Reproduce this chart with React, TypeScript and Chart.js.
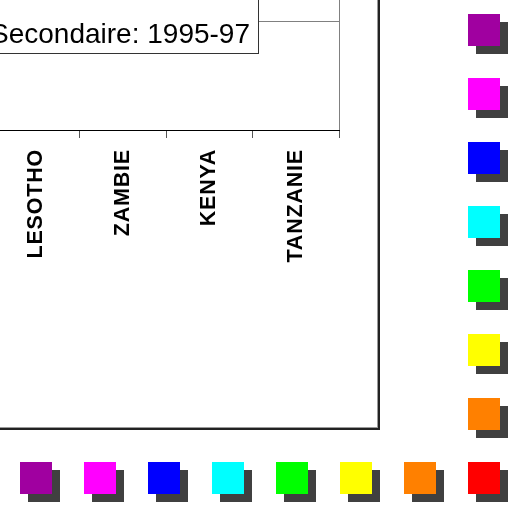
import React, { useEffect, useRef } from "react";
import { Chart, registerables } from "chart.js";

Chart.register(...registerables);

// ---- data ----
const CATEGORIES = ["LESOTHO", "ZAMBIE", "KENYA", "TANZANIE"];
const SERIES_LABEL = "Secondaire: 1995-97";
const SERIES_VALUES: (number | null)[] = [null, null, null, null];
const Y_TICKS = [0, 50, 100];
const PALETTE = ["#A000A0", "#FF00FF", "#0000FF", "#00FFFF", "#00FF00", "#FFFF00", "#FF8000", "#FF0000"];

// ---- canvas geometry (the visible window is the bottom-right part of a larger canvas) ----
const VIEW_W = 508;
const VIEW_H = 507;
const W = 528;
const H = 607;
const OX = W - VIEW_W;
const OY = H - VIEW_H;

const decor = {
  id: "decor",
  beforeDraw(chart: any) {
    const ctx = chart.ctx;
    ctx.save();
    ctx.fillStyle = "#ffffff";
    ctx.fillRect(0, 0, chart.width, chart.height);
    ctx.restore();
    ctx.letterSpacing = "0.8px";
  },
  beforeDatasetsDraw(chart: any) {
    const { ctx, chartArea: a } = chart;
    ctx.save();
    ctx.letterSpacing = "0px";
    ctx.strokeStyle = "#808080";
    ctx.lineWidth = 1;
    ctx.beginPath();
    ctx.moveTo(a.left + 0.5, a.bottom);
    ctx.lineTo(a.left + 0.5, a.top + 0.5);
    ctx.lineTo(a.right + 0.5, a.top + 0.5);
    ctx.lineTo(a.right + 0.5, a.bottom);
    ctx.stroke();
    ctx.restore();
  },
  afterDraw(chart: any) {
    const { ctx, chartArea: a } = chart;
    ctx.save();
    ctx.letterSpacing = "0px";

    // legend box
    const label = chart.data.datasets[0].label as string;
    ctx.font = "28px 'Liberation Sans', Arial, sans-serif";
    const tw = ctx.measureText(label).width;
    const right = a.left + 265;
    const bottom = a.top + 141;
    const top = bottom - 62;
    const left = right - tw - 60;
    ctx.fillStyle = "#ffffff";
    ctx.fillRect(left, top, right - left, bottom - top);
    ctx.strokeStyle = "#333333";
    ctx.lineWidth = 1;
    ctx.strokeRect(left + 0.5, top + 0.5, right - left, bottom - top);
    ctx.fillStyle = "#000000";
    ctx.textAlign = "right";
    ctx.textBaseline = "alphabetic";
    ctx.fillText(label, right - 8, bottom - 10);

    // outer chart frame (right & bottom edges visible)
    const fr = OX + 378;
    const fb = OY + 428;
    ctx.fillStyle = "#9a9a9a";
    ctx.fillRect(0, fb - 1, fr, 1);
    ctx.fillRect(fr - 1, 0, 1, fb);
    ctx.fillStyle = "#222222";
    ctx.fillRect(0, fb, fr + 2, 2);
    ctx.fillRect(fr, 0, 2, fb + 2);

    // decorative coloured tiles along right & bottom borders
    const n = PALETTE.length;
    const size = 32;
    const step = 64;
    const cx = chart.width - 40;
    const cy = chart.height - 45;
    const tile = (x: number, y: number, c: string) => {
      ctx.fillStyle = "#404040";
      ctx.fillRect(x + 8, y + 8, size, size);
      ctx.fillStyle = c;
      ctx.fillRect(x, y, size, size);
    };
    for (let k = 0; k < n; k++) {
      tile(cx, cy - step * (n - 1 - k), PALETTE[k]);
      tile(cx - step * (n - 1 - k), cy, PALETTE[k]);
    }
    ctx.restore();
  },
};

export default function App() {
  const ref = useRef<HTMLCanvasElement | null>(null);
  useEffect(() => {
    if (!ref.current) return;
    const chart = new Chart(ref.current, {
      type: "bar",
      data: {
        labels: CATEGORIES,
        datasets: [
          { label: SERIES_LABEL, data: SERIES_VALUES as any, backgroundColor: "#9999ff", borderWidth: 0 },
        ],
      },
      options: {
        responsive: false,
        animation: false,
        devicePixelRatio: 1,
        layout: { padding: { left: OX - 7, right: W - (OX + 339), top: OY - 88, bottom: 0 } },
        plugins: { legend: { display: false }, tooltip: { enabled: false }, title: { display: false } },
        scales: {
          x: {
            grid: { drawOnChartArea: false, drawTicks: true, tickLength: 8, color: "#555555", offset: true },
            border: { display: true, color: "#000000", width: 1 },
            ticks: {
              color: "#000000",
              font: { family: "'Liberation Sans', Arial, sans-serif", size: 21.5, weight: "bold" },
              minRotation: 90,
              maxRotation: 90,
              autoSkip: false,
              padding: 11,
            },
            afterFit: (s: any) => {
              s.height = H - (OY + 130);
            },
          },
          y: {
            min: Y_TICKS[0],
            max: Y_TICKS[Y_TICKS.length - 1],
            ticks: { display: false, stepSize: Y_TICKS[1] - Y_TICKS[0] },
            grid: {
              drawTicks: false,
              lineWidth: 1,
              color: (c: any) => (c.tick && c.tick.value === 0 ? "rgba(0,0,0,0)" : "#808080"),
            },
            border: { display: false },
          },
        },
      } as any,
      plugins: [decor],
    });
    return () => chart.destroy();
  }, []);
  return (
    <div
      style={{
        position: "fixed",
        left: 0,
        top: 0,
        width: VIEW_W,
        height: VIEW_H,
        overflow: "hidden",
        background: "#ffffff",
      }}
    >
      <canvas
        ref={ref}
        width={W}
        height={H}
        style={{ position: "absolute", left: VIEW_W - W, top: VIEW_H - H, width: W, height: H }}
      />
    </div>
  );
}
